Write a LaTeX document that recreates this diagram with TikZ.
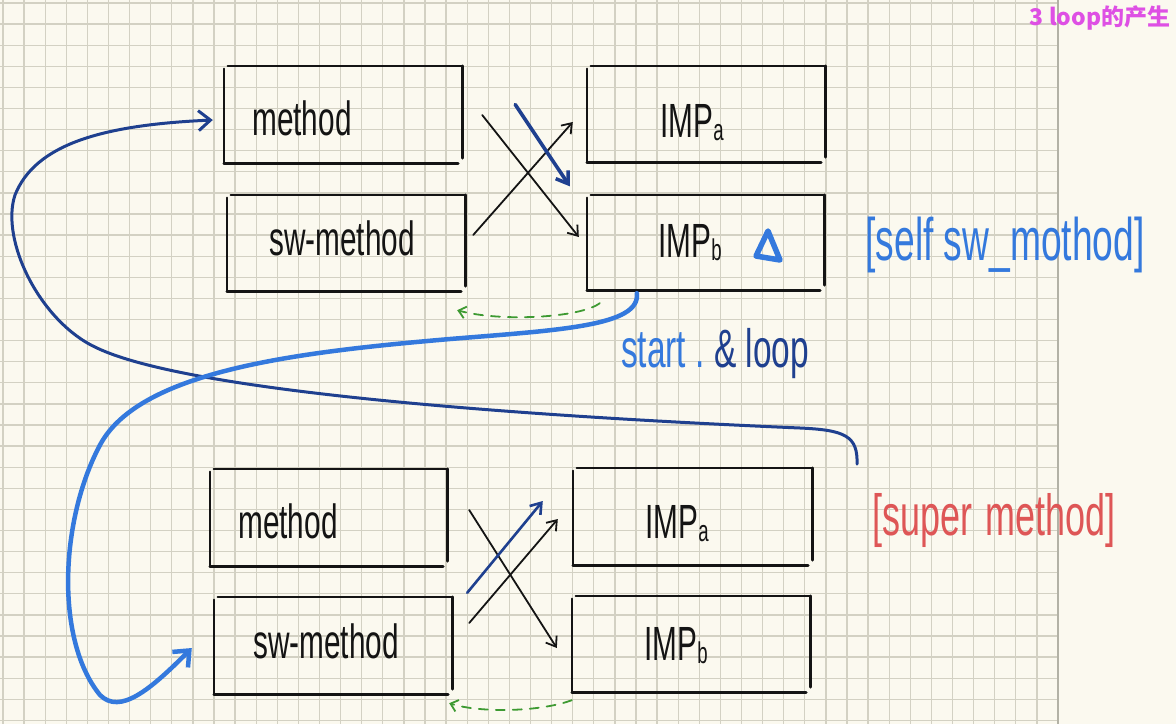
\documentclass[tikz,border=0pt]{standalone}
\usepackage{fontspec}
\usetikzlibrary{arrows.meta,calc}
\newfontfamily\hand[FakeStretch=0.62]{Liberation Sans}
\newfontfamily\cjk{Noto Sans CJK SC}
\definecolor{paper}{HTML}{FBF9EF}
\definecolor{gridc}{HTML}{D3D1C3}
\definecolor{ink}{HTML}{141414}
\definecolor{bright}{HTML}{3479DD}
\definecolor{navy}{HTML}{1F408F}
\definecolor{redink}{HTML}{DE5656}
\definecolor{greenink}{HTML}{3E9A32}
\definecolor{magentaink}{HTML}{DE50E4}
\begin{document}
\begin{tikzpicture}[x=1pt,y=-1pt,
  boxline/.style={draw=ink,line width=2.6pt,line cap=round},
  hbox/.style={draw=none,inner sep=0pt,minimum width=238pt,minimum height=96pt},
  handtext/.style={font=\hand\fontsize{48}{48}\selectfont,text=ink,anchor=base,inner sep=0pt},
  blackarrow/.style={draw=ink,line width=1.8pt,line cap=round,-{Straight Barb[length=9pt,width=13pt]}},
  navyarrow/.style={draw=navy,line width=3.6pt,line cap=round,-{Straight Barb[length=11pt,width=15pt]}},
  greenarrow/.style={draw=greenink,line width=1.8pt,line cap=round,dash pattern=on 9pt off 8pt,-{Straight Barb[length=7pt,width=12pt]}},
  navycurve/.style={draw=navy,line width=3pt,line cap=round,-{Straight Barb[length=12pt,width=20pt]}},
  brightcurve/.style={draw=bright,line width=4.5pt,line cap=round,-{Straight Barb[length=13pt,width=22pt]}}]
\useasboundingbox (0,0) rectangle (1176,724);
\fill[paper] (0,0) rectangle (1176,724);
% grid paper
\foreach \i in {0,...,50} \draw[gridc,line width=1.3pt] ({3+21.1*\i},0) -- ({3+21.1*\i},724);
\foreach \j in {0,...,34} \draw[gridc,line width=1.3pt] (0,{3+21.1*\j}) -- (1058,{3+21.1*\j});
\draw[gridc!85!black,line width=2.5pt] (1058,0) -- (1058,724);

% boxes
\node[hbox,minimum width=238pt,minimum height=97pt] (m1) at (343,114.5) {};
\node[hbox,minimum width=238pt,minimum height=96pt] (s1) at (346,243) {};
\node[hbox,minimum width=238pt,minimum height=96pt] (a1) at (706,114) {};
\node[hbox,minimum width=237pt,minimum height=95pt] (b1) at (705.5,242.5) {};
\node[hbox,minimum width=237pt,minimum height=97pt] (m2) at (328.5,517.5) {};
\node[hbox,minimum width=238pt,minimum height=97pt] (s2) at (333,645.5) {};
\node[hbox,minimum width=239pt,minimum height=97pt] (a2) at (692.5,516.5) {};
\node[hbox,minimum width=238pt,minimum height=96pt] (b2) at (691,644) {};
\foreach \n in {m1,s1,a1,b1,m2,s2,a2,b2}{
  \draw[boxline] ([xshift=4pt]\n.north west) -- (\n.north east);
  \draw[boxline] ([yshift=-3pt]\n.north west) -- (\n.south west);
  \draw[boxline] (\n.south west) -- ([xshift=-4pt]\n.south east);
  \draw[boxline] (\n.north east) -- ([yshift=5pt]\n.south east);
}

% box texts
\node[handtext] (tm1) at (302,135) {method};
\node[handtext] (ts1) at (342,255) {sw-method};
\node[handtext] (ta1) at (692,137) {IMP\raisebox{-3pt}{\fontsize{30}{30}\selectfont a}};
\node[handtext] (tb1) at (690,257) {IMP\raisebox{-3pt}{\fontsize{30}{30}\selectfont b}};
\node[handtext] (tm2) at (288,538) {method};
\node[handtext] (ts2) at (326,658) {sw-method};
\node[handtext] (ta2) at (677,538) {IMP\raisebox{-3pt}{\fontsize{30}{30}\selectfont a}};
\node[handtext] (tb2) at (676,660) {IMP\raisebox{-3pt}{\fontsize{30}{30}\selectfont b}};

% triangle mark
\draw[bright,line width=5.5pt,line join=round] (768,231) -- (756,256) -- (780,260) -- cycle;

% labels
\node[font=\hand\fontsize{60}{60}\selectfont,text=bright,anchor=base,inner sep=0pt] (self) at (1005,260) {[self sw\_mothod]};
\node[font=\hand\fontsize{54}{54}\selectfont,anchor=base,inner sep=0pt] (loop) at (715,367) {\textcolor{bright}{start .}\ \textcolor{navy}{\& loop}};
\node[font=\hand\fontsize{58}{58}\selectfont,text=redink,anchor=base,inner sep=0pt] (super) at (994,535) {[super\hspace{14pt}method]};
\node[font=\cjk\bfseries\fontsize{23}{23}\selectfont,text=magentaink,anchor=base,inner sep=0pt] (title) at (1100,25) {3 loop的产生};

% top crossing arrows
\draw[blackarrow] ($(m1.east)+(20,0.5)$) -- ($(b1.west)+(-8,-5.5)$);
\draw[blackarrow] ($(s1.east)+(8,-8)$) -- ($(a1.west)+(-14,8)$);
\draw[navyarrow] ($(m1.east)+(53,-10)$) -- ($(b1.north west)+(-17,-8.5)$);

% bottom crossing arrows
\draw[blackarrow] ($(m2.east)+(22,-7.5)$) -- ($(b2.west)+(-15,4)$);
\draw[blackarrow] ($(s2.east)+(17,-22.5)$) -- ($(a2.west)+(-15,2.5)$);
\draw[navy,line width=2.6pt,line cap=round,-{Straight Barb[length=10pt,width=14pt]}] ($(s2.north east)+(15,-4)$) -- ($(a2.west)+(-30,-15.5)$);

% green dashed returns
\draw[greenarrow] ($(b1.south west)+(13,13)$) .. controls (580,318) and (500,322) .. ($(s1.south east)+(-8,19)$);
\draw[greenarrow] ($(b2.south west)+(0,8)$) .. controls (540,712) and (480,713) .. ($(s2.south east)+(-3,9)$);

% super method curve
\coordinate (supstart) at (857,464);
\draw[navycurve] (supstart) .. controls (858,436) and (845,430) .. (800,428)
  .. controls (520,416) and (190,392) .. (97,348)
  .. controls (40,322) and (0,240) .. (15,195)
  .. controls (35,145) and (100,125) .. ($(m1.west)+(-11,5.5)$);

% start & loop curve
\draw[brightcurve] ($(b1.south west)+(50,3)$) .. controls (641,326) and (560,330) .. (450,339)
  .. controls (300,352) and (140,370) .. (100,445)
  .. controls (60,520) and (55,640) .. (100,695)
  .. controls (120,715) and (150,690) .. ($(s2.west)+(-22,2.5)$);
\end{tikzpicture}
\end{document}
